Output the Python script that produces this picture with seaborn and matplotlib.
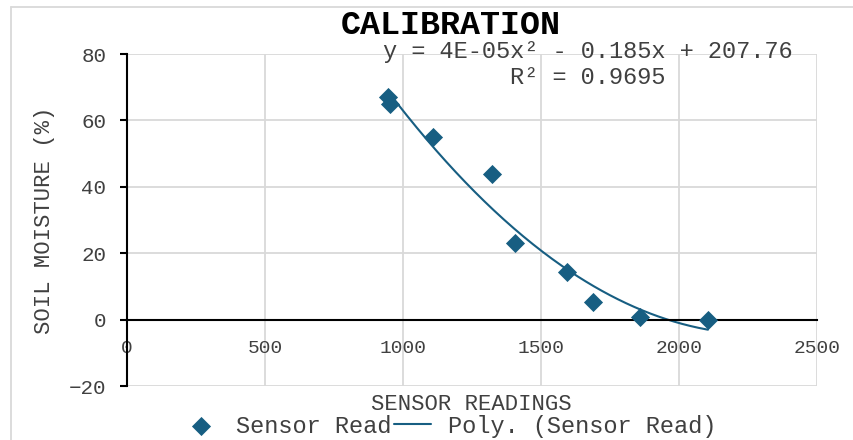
import numpy as np
import matplotlib
matplotlib.use("Agg")
import matplotlib.pyplot as plt
import pandas as pd
import seaborn as sns
from matplotlib.lines import Line2D

# readings taken off the calibration chart
sensor = [946, 953, 1109, 1322, 1406, 1594, 1688, 1859, 2105]
moisture = [67, 65, 55, 44, 23, 14.4, 5.4, 0.9, 0]

df = pd.DataFrame({"sensor": sensor, "moisture": moisture})

# 2nd order trendline, like excel
coef = np.polyfit(df["sensor"], df["moisture"], 2)
xs = np.linspace(df["sensor"].min(), df["sensor"].max(), 200)
trend = pd.DataFrame({"sensor": xs, "moisture": np.polyval(coef, xs)})

sns.set_style("white")
plt.rcParams["font.family"] = ["Liberation Mono", "DejaVu Sans Mono"]

blue = "#175e82"
grid = "#d9d9d9"

fig = plt.figure(figsize=(8.54, 4.4), dpi=100)
ax = fig.add_axes([127/854, 1-386/440, (817-127)/854, (386-54)/440])

sns.scatterplot(data=df, x="sensor", y="moisture", ax=ax, marker="D", s=95,
                color=blue, edgecolor=blue, linewidth=0, label="Sensor Read", zorder=3)
sns.lineplot(data=trend, x="sensor", y="moisture", ax=ax, color=blue, lw=1.5,
             label="Poly. (Sensor Read)", zorder=2)

ax.set_xlim(0, 2500)
ax.set_ylim(-20, 80)
ax.set_xticks([0, 500, 1000, 1500, 2000, 2500])
ax.set_yticks([-20, 0, 20, 40, 60, 80])
ax.grid(True, color=grid, lw=1.3)
ax.set_axisbelow(True)

for s in ["top", "right"]:
    ax.spines[s].set_visible(False)
ax.spines["bottom"].set_position(("data", 0))
ax.spines["bottom"].set_color("black")
ax.spines["bottom"].set_linewidth(1.5)
ax.spines["left"].set_color("black")
ax.spines["left"].set_linewidth(1.5)

ax.tick_params(axis="x", length=0, pad=15, labelsize=14, colors="#404040")
ax.tick_params(axis="y", length=5, width=1.5, color="black", direction="out",
               pad=10, labelsize=15, labelcolor="#404040", left=True)

ax.set_xlabel("")
ax.set_ylabel("SOIL MOISTURE (%)", fontsize=16, color="#404040", labelpad=10)
fig.text(471/854, 1-404/440, "SENSOR READINGS", ha="center", va="center",
         fontsize=16, color="#404040")

fig.text(451/854, 1-25/440, "CALIBRATION", ha="center", va="center",
         fontsize=24, fontweight="bold", color="black")
fig.text(588/854, 1-51/440, "y = 4E-05x² - 0.185x + 207.76", ha="center",
         va="center", fontsize=17, color="#404040")
fig.text(588/854, 1-78/440, "R² = 0.9695", ha="center", va="center",
         fontsize=17, color="#404040")

ax.legend(loc="center", bbox_to_anchor=(449/854, 1-426/440),
          bbox_transform=fig.transFigure, ncol=2, frameon=False,
          fontsize=17, handlelength=1.6, handletextpad=0.7,
          columnspacing=0.1, labelcolor="#404040")

# chart area border
fig.add_artist(Line2D([11/854, 11/854], [0, 1-7/440], transform=fig.transFigure,
                      color=grid, lw=1.3))
fig.add_artist(Line2D([11/854, 1], [1-7/440, 1-7/440], transform=fig.transFigure,
                      color=grid, lw=1.3))

fig.savefig("out.png", dpi=100)
